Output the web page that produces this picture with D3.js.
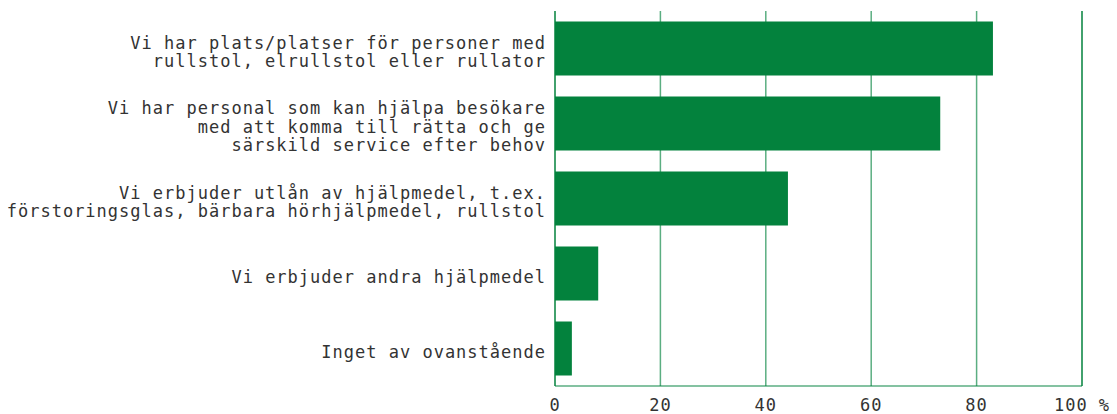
<!DOCTYPE html>
<html>
<head>
<meta charset="utf-8">
<script src="https://cdn.jsdelivr.net/npm/d3@7"></script>
<style>
  body { margin: 0; background: #fff; }
  text { font-family: "DejaVu Sans Mono", "Liberation Mono", monospace; fill: #333; }
</style>
</head>
<body>
<div id="chart"></div>
<script>
// data
var categories = [
  ["Vi har plats/platser för personer med", "rullstol, elrullstol eller rullator"],
  ["Vi har personal som kan hjälpa besökare", "med att komma till rätta och ge", "särskild service efter behov"],
  ["Vi erbjuder utlån av hjälpmedel, t.ex.", "förstoringsglas, bärbara hörhjälpmedel, rullstol"],
  ["Vi erbjuder andra hjälpmedel"],
  ["Inget av ovanstående"]
];
var values = [83.1, 73.1, 44.2, 8.2, 3.2];
var ticks = [0, 20, 40, 60, 80, 100];

var width = 1117, height = 414,
    margin = {top: 11, right: 35, bottom: 28, left: 555};
var green = "#03823d";

var svg = d3.select("#chart").append("svg")
    .attr("width", width)
    .attr("height", height);

var x = d3.scaleLinear().domain([0, 100]).range([margin.left, width - margin.right]);
var y = d3.scaleBand()
    .domain(d3.range(values.length))
    .range([margin.top, height - margin.bottom])
    .paddingInner(0.28)
    .paddingOuter(0.14);

// gridlines
svg.append("g").selectAll("line")
  .data(ticks)
  .join("line")
    .attr("x1", d => x(d)).attr("x2", d => x(d))
    .attr("y1", margin.top).attr("y2", height - margin.bottom)
    .attr("stroke", green)
    .attr("stroke-opacity", d => (d == 0 || d == 100) ? 1 : 0.65)
    .attr("stroke-width", 1.5);

// bottom line
svg.append("line")
    .attr("x1", x(0)).attr("x2", x(100))
    .attr("y1", height - margin.bottom).attr("y2", height - margin.bottom)
    .attr("stroke", green)
    .attr("stroke-opacity", 0.65)
    .attr("stroke-width", 1.5);

// bars
svg.append("g").selectAll("rect")
  .data(values)
  .join("rect")
    .attr("x", x(0))
    .attr("y", (d, i) => y(i))
    .attr("width", d => x(d) - x(0))
    .attr("height", y.bandwidth())
    .attr("fill", green);

// category labels
var lineH = 18.5;
svg.append("g").selectAll("text")
  .data(categories)
  .join("text")
    .attr("text-anchor", "end")
    .style("font-size", "17px")
    .style("letter-spacing", "1px")
    .each(function(lines, i) {
      var cy = y(i) + y.bandwidth() / 2;
      d3.select(this).selectAll("tspan")
        .data(lines)
        .join("tspan")
          .attr("x", margin.left - 9)
          .attr("y", (l, j) => cy + (j - (lines.length - 1) / 2) * lineH)
          .attr("dy", "0.55em")
          .text(l => l);
    });

// tick labels
svg.append("g").selectAll("text")
  .data(ticks)
  .join("text")
    .attr("x", d => x(d))
    .attr("y", 411)
    .attr("text-anchor", "middle")
    .style("font-size", "17px")
    .style("letter-spacing", "1px")
    .text(d => d == 100 ? "100 %" : d);
</script>
</body>
</html>
